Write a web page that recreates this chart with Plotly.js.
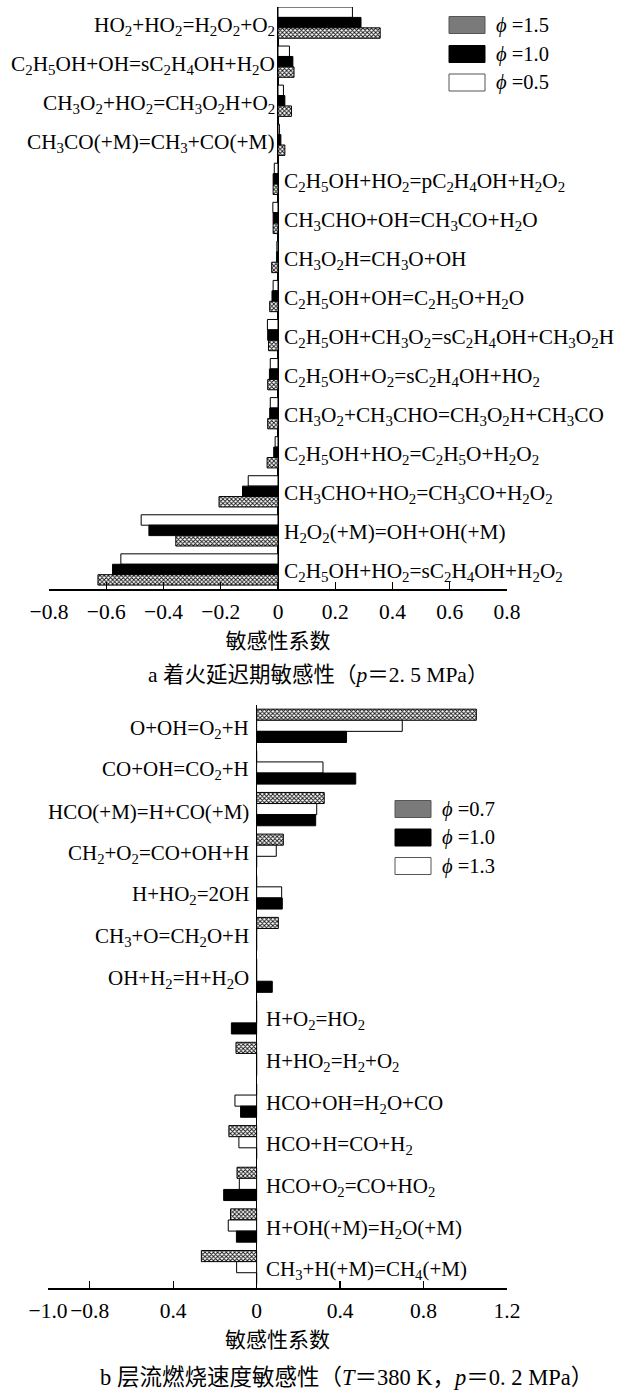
<!DOCTYPE html>
<html>
<head>
<meta charset="utf-8">
<script src="https://cdn.plot.ly/plotly-3.0.1.min.js"></script>
<style>html,body{margin:0;padding:0;background:#fff;}#chart{width:618px;height:1390px;}</style>
</head>
<body>
<div id="chart"></div>
<script>
// ---------- Chart a: ignition delay sensitivity ----------
const catA = [
  'HO<sub>2</sub>+HO<sub>2</sub>=H<sub>2</sub>O<sub>2</sub>+O<sub>2</sub>',
  'C<sub>2</sub>H<sub>5</sub>OH+OH=sC<sub>2</sub>H<sub>4</sub>OH+H<sub>2</sub>O',
  'CH<sub>3</sub>O<sub>2</sub>+HO<sub>2</sub>=CH<sub>3</sub>O<sub>2</sub>H+O<sub>2</sub>',
  'CH<sub>3</sub>CO(+M)=CH<sub>3</sub>+CO(+M)',
  'C<sub>2</sub>H<sub>5</sub>OH+HO<sub>2</sub>=pC<sub>2</sub>H<sub>4</sub>OH+H<sub>2</sub>O<sub>2</sub>',
  'CH<sub>3</sub>CHO+OH=CH<sub>3</sub>CO+H<sub>2</sub>O',
  'CH<sub>3</sub>O<sub>2</sub>H=CH<sub>3</sub>O+OH',
  'C<sub>2</sub>H<sub>5</sub>OH+OH=C<sub>2</sub>H<sub>5</sub>O+H<sub>2</sub>O',
  'C<sub>2</sub>H<sub>5</sub>OH+CH<sub>3</sub>O<sub>2</sub>=sC<sub>2</sub>H<sub>4</sub>OH+CH<sub>3</sub>O<sub>2</sub>H',
  'C<sub>2</sub>H<sub>5</sub>OH+O<sub>2</sub>=sC<sub>2</sub>H<sub>4</sub>OH+HO<sub>2</sub>',
  'CH<sub>3</sub>O<sub>2</sub>+CH<sub>3</sub>CHO=CH<sub>3</sub>O<sub>2</sub>H+CH<sub>3</sub>CO',
  'C<sub>2</sub>H<sub>5</sub>OH+HO<sub>2</sub>=C<sub>2</sub>H<sub>5</sub>O+H<sub>2</sub>O<sub>2</sub>',
  'CH<sub>3</sub>CHO+HO<sub>2</sub>=CH<sub>3</sub>CO+H<sub>2</sub>O<sub>2</sub>',
  'H<sub>2</sub>O<sub>2</sub>(+M)=OH+OH(+M)',
  'C<sub>2</sub>H<sub>5</sub>OH+HO<sub>2</sub>=sC<sub>2</sub>H<sub>4</sub>OH+H<sub>2</sub>O<sub>2</sub>'
];
const phi05A = [0.26, 0.040, 0.019, 0.005, -0.013, -0.018, -0.004, -0.017, -0.037, -0.027, -0.027, -0.010, -0.104, -0.478, -0.549];
const phi10A = [0.29, 0.052, 0.024, 0.010, -0.017, -0.017, -0.005, -0.021, -0.036, -0.030, -0.029, -0.015, -0.124, -0.451, -0.578];
const phi15A = [0.357, 0.056, 0.047, 0.024, -0.017, -0.017, -0.022, -0.029, -0.033, -0.036, -0.036, -0.038, -0.206, -0.357, -0.629];
const legendA = ['\u03D5 =1.5', '\u03D5 =1.0', '\u03D5 =0.5'];
const titleA = 'a 着火延迟期敏感性（<i>p</i>＝2. 5 MPa）';

// ---------- Chart b: laminar burning velocity sensitivity ----------
const catB = [
  'O+OH=O<sub>2</sub>+H',
  'CO+OH=CO<sub>2</sub>+H',
  'HCO(+M)=H+CO(+M)',
  'CH<sub>2</sub>+O<sub>2</sub>=CO+OH+H',
  'H+HO<sub>2</sub>=2OH',
  'CH<sub>3</sub>+O=CH<sub>2</sub>O+H',
  'OH+H<sub>2</sub>=H+H<sub>2</sub>O',
  'H+O<sub>2</sub>=HO<sub>2</sub>',
  'H+HO<sub>2</sub>=H<sub>2</sub>+O<sub>2</sub>',
  'HCO+OH=H<sub>2</sub>O+CO',
  'HCO+H=CO+H<sub>2</sub>',
  'HCO+O<sub>2</sub>=CO+HO<sub>2</sub>',
  'H+OH(+M)=H<sub>2</sub>O(+M)',
  'CH<sub>3</sub>+H(+M)=CH<sub>4</sub>(+M)'
];
const phi07B = [1.053, 0, 0.324, 0.128, 0, 0.104, 0, 0, -0.099, 0, -0.133, -0.094, -0.125, -0.265];
const phi13B = [0.698, 0.318, 0.288, 0.094, 0.120, 0, 0, 0, 0, -0.104, -0.085, -0.083, -0.136, -0.096];
const phi10B = [0.431, 0.475, 0.283, 0, 0.123, 0, 0.075, -0.121, 0, -0.077, 0, -0.158, -0.097, 0];
const legendB = ['\u03D5 =0.7', '\u03D5 =1.0', '\u03D5 =1.3'];
const tickValsB = [-1.0, -0.8, -0.4, 0, 0.4, 0.8, 1.2];
const tickTextB = ['\u22121.0', '\u22120.8', '0.4', '0', '0.4', '0.8', '1.2'];
const titleB = 'b 层流燃烧速度敏感性（<i>T</i>＝380 K，<i>p</i>＝0. 2 MPa）';
const axisTitle = '敏感性系数';

// ---------- styling ----------
const W = 618, H = 1390;
const FONT = 'Liberation Serif, Times New Roman, Noto Sans CJK SC, serif';
const CJK = 'Noto Sans CJK SC, sans-serif';
const hatch = {shape: 'x', fgcolor: '#111', bgcolor: '#fff', size: 3, solidity: 0.5};
const styles = {
  white: {color: '#fff', line: {color: '#000', width: 1}},
  black: {color: '#000', line: {color: '#000', width: 1}},
  hatch: {color: '#fff', pattern: hatch, line: {color: '#000', width: 1}}
};
const px = (x) => x / W;
const py = (y) => 1 - y / H;

const idxA = catA.map((_, i) => i);
const idxB = catB.map((_, i) => i);

function bar(vals, idx, style, xa, ya, name) {
  return {type: 'bar', orientation: 'h', x: vals, y: idx, xaxis: xa, yaxis: ya,
          name: name, marker: style, showlegend: false, hoverinfo: 'x'};
}

const data = [
  bar(phi05A, idxA, styles.white, 'x', 'y', legendA[2]),
  bar(phi10A, idxA, styles.black, 'x', 'y', legendA[1]),
  bar(phi15A, idxA, styles.hatch, 'x', 'y', legendA[0]),
  bar(phi07B, idxB, styles.hatch, 'x2', 'y2', legendB[0]),
  bar(phi13B, idxB, styles.white, 'x2', 'y2', legendB[2]),
  bar(phi10B, idxB, styles.black, 'x2', 'y2', legendB[1])
];

const annotations = [];
function labels(cats, series, xref, yref, gapL, gapR, size) {
  cats.forEach((c, i) => {
    const s = series.reduce((a, arr) => a + arr[i], 0);
    const left = s > 0;
    annotations.push({text: c, x: 0, y: i, xref: xref, yref: yref,
      xanchor: left ? 'right' : 'left', yanchor: 'middle',
      xshift: left ? -gapL : gapR, yshift: -3, showarrow: false,
      font: {family: FONT, size: size, color: '#000'}});
  });
}
labels(catA, [phi05A, phi10A, phi15A], 'x', 'y', 1, 4, 21.3);
labels(catB, [phi07B, phi13B, phi10B], 'x2', 'y2', 6, 7, 21);

const shapes = [];
function legend(texts, fills, x0, yc) {
  texts.forEach((t, i) => {
    const y = yc[i];
    const f = fills[i];
    shapes.push({type: 'rect', xref: 'paper', yref: 'paper',
      x0: px(x0), x1: px(x0 + 36), y0: py(y - 8.5), y1: py(y + 8.5),
      fillcolor: f, line: {color: f === '#000' ? '#000' : '#555', width: 1}});
    annotations.push({text: t.replace('\u03D5', '<i>\u03D5</i>'), x: px(x0 + 45), y: py(y),
      xref: 'paper', yref: 'paper', xanchor: 'left', yanchor: 'middle', showarrow: false,
      font: {family: FONT, size: 20.5, color: '#000'}});
  });
}
legend(legendA, ['#7a7a7a', '#000', '#fff'], 449, [25, 54, 82.5]);
legend(legendB, ['#7a7a7a', '#000', '#fff'], 395, [809, 837.5, 866]);

annotations.push({text: titleA, x: px(318), y: py(675), xref: 'paper', yref: 'paper',
  xanchor: 'center', yanchor: 'middle', showarrow: false, font: {family: FONT, size: 21.5, color: '#000'}});
annotations.push({text: titleB, x: px(346), y: py(1377), xref: 'paper', yref: 'paper',
  xanchor: 'center', yanchor: 'middle', showarrow: false, font: {family: FONT, size: 22.5, color: '#000'}});

const xCommon = {
  showline: true, linecolor: '#000', linewidth: 1.5, mirror: false,
  ticks: 'inside', ticklen: 7, tickwidth: 1.2, tickcolor: '#000',
  ticklabelstandoff: 3,
  showgrid: false, zeroline: true, zerolinecolor: '#000', zerolinewidth: 1.5,
  tickfont: {family: FONT, size: 21.5, color: '#000'},
  title: {text: axisTitle, font: {family: CJK, size: 21, color: '#000'}, standoff: 6},
  fixedrange: true
};
const yCommon = {showticklabels: false, showline: false, zeroline: false, showgrid: false, ticks: '', fixedrange: true};

const layout = {
  width: W, height: H, margin: {l: 0, r: 0, t: 0, b: 0},
  paper_bgcolor: '#fff', plot_bgcolor: '#fff',
  barmode: 'group', bargap: 0.2, bargroupgap: 0,
  showlegend: false,
  xaxis: Object.assign({}, xCommon, {domain: [px(49), px(507)], range: [-0.8, 0.8], dtick: 0.2, tick0: 0, anchor: 'y'}),
  yaxis: Object.assign({}, yCommon, {domain: [py(589), py(7)], range: [14.5, -0.4], anchor: 'x'}),
  xaxis2: Object.assign({}, xCommon, {domain: [px(48), px(507)], range: [-1.0, 1.2], tickmode: 'array', tickvals: tickValsB, ticktext: tickTextB, anchor: 'y2'}),
  yaxis2: Object.assign({}, yCommon, {domain: [py(1288), py(705)], range: [13.5, -0.5], anchor: 'x2'}),
  annotations: annotations,
  shapes: shapes
};

Plotly.newPlot('chart', data, layout, {staticPlot: true, displayModeBar: false});
</script>
</body>
</html>
